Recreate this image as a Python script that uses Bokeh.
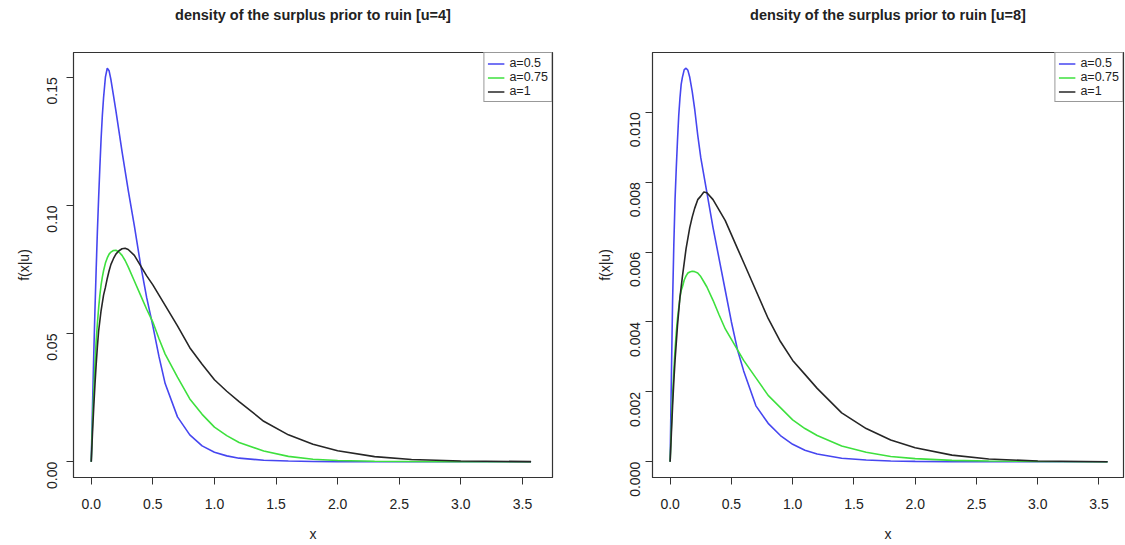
import math
from bokeh.plotting import figure
from bokeh.layouts import row
from bokeh.models import (Legend, LegendItem, FixedTicker, NumeralTickFormatter, Range1d,
                          LinearAxis)
from bokeh.embed import file_html
from bokeh.resources import INLINE

# ---- data ----
x_vals = [0, 0.01, 0.02, 0.03, 0.04, 0.05, 0.06, 0.07, 0.08, 0.09, 0.1, 0.115, 0.13, 0.145, 0.16,
          0.18, 0.2, 0.225, 0.25, 0.275, 0.3, 0.35, 0.4, 0.45, 0.5, 0.55, 0.6, 0.7, 0.8, 0.9,
          1.0, 1.1, 1.2, 1.4, 1.6, 1.8, 2.0, 2.3, 2.6, 3.0, 3.57]

u4_a05 = [0, 0.021, 0.041, 0.059, 0.075, 0.090, 0.103, 0.115, 0.126, 0.135, 0.142, 0.150, 0.1535,
          0.1525, 0.149, 0.143, 0.137, 0.129, 0.121, 0.1135, 0.106, 0.092, 0.077, 0.064, 0.053,
          0.041, 0.0305, 0.0175, 0.0105, 0.0062, 0.0037, 0.0023, 0.0014, 0.0006, 0.0003, 0.0001,
          0.00005, 0.00002, 0.0, 0.0, 0.0]
u4_a075 = [0, 0.015, 0.027, 0.038, 0.047, 0.054, 0.060, 0.065, 0.069, 0.072, 0.0745, 0.0775, 0.0795,
           0.081, 0.0818, 0.0824, 0.0825, 0.0818, 0.0805, 0.0785, 0.076, 0.0705, 0.065, 0.0595,
           0.0545, 0.048, 0.042, 0.033, 0.0245, 0.0185, 0.0135, 0.0102, 0.0075, 0.0042, 0.0021,
           0.001, 0.0005, 0.0002, 0.0001, 0.00003, 0.0]
u4_a1 = [0, 0.011, 0.021, 0.030, 0.038, 0.045, 0.051, 0.055, 0.059, 0.062, 0.065, 0.068, 0.0715,
         0.0745, 0.077, 0.0792, 0.081, 0.0823, 0.0831, 0.0833, 0.0828, 0.0805, 0.0765, 0.0725,
         0.069, 0.065, 0.061, 0.053, 0.0445, 0.038, 0.032, 0.0275, 0.0235, 0.0158, 0.0105,
         0.0068, 0.0043, 0.002, 0.0009, 0.0003, 0.00005]

u8_a05 = [0, 0.0024, 0.0046, 0.0062, 0.0075, 0.0084, 0.0092, 0.0099, 0.0104, 0.0108, 0.0110,
          0.01122, 0.01126, 0.0112, 0.0110, 0.0106, 0.0101, 0.00935, 0.0087, 0.0082, 0.0077,
          0.0067, 0.0058, 0.0049, 0.0040, 0.0032, 0.0026, 0.0016, 0.0011, 0.00075, 0.0005,
          0.00033, 0.00022, 0.0001, 0.00005, 0.00002, 0.00001, 0.0, 0.0, 0.0, 0.0]
u8_a075 = [0, 0.0010, 0.0019, 0.0026, 0.0032, 0.0037, 0.0041, 0.0044, 0.0047, 0.0049, 0.0050,
           0.0052, 0.00532, 0.0054, 0.00543, 0.00545, 0.00544, 0.0054, 0.0053, 0.00515, 0.0050,
           0.00462, 0.0042, 0.0038, 0.0035, 0.0032, 0.0029, 0.0024, 0.0019, 0.00155, 0.0012,
           0.00095, 0.00075, 0.00045, 0.00027, 0.00015, 0.00009, 0.00004, 0.00002, 0.00001, 0.0]
u8_a1 = [0, 0.0008, 0.0016, 0.0023, 0.0029, 0.0034, 0.0039, 0.0043, 0.0047, 0.0050, 0.0053,
         0.0057, 0.0061, 0.0064, 0.0067, 0.0070, 0.00725, 0.0075, 0.0076, 0.00772, 0.0077,
         0.0075, 0.0072, 0.0069, 0.0065, 0.0061, 0.0057, 0.0049, 0.0041, 0.00344, 0.0029,
         0.0025, 0.0021, 0.0014, 0.00095, 0.00062, 0.0004, 0.00019, 0.00008, 0.00002, 0.0]

series_labels = ["a=0.5", "a=0.75", "a=1"]
series_colors = ["#4646f0", "#3ee03e", "#262626"]
x_ticks = [0, 0.5, 1.0, 1.5, 2.0, 2.5, 3.0, 3.5]
y_ticks_u4 = [0.0, 0.05, 0.10, 0.15]
y_ticks_u8 = [0.0, 0.002, 0.004, 0.006, 0.008, 0.010]
titles = ["density of the surplus prior to ruin [u=4]",
          "density of the surplus prior to ruin [u=8]"]

FONT = "Liberation Sans"
TXT = "#222222"
FRAME_TOP = 52
FRAME_H = 425


def make_panel(title, ys, yticks, yfmt, ymax, width, bl, br, xmax, ylab_sd, yax_sd):
    xmin = -0.144
    y0, y1 = -0.04 * ymax, 1.04 * ymax
    p = figure(width=width, height=545, output_backend="svg", toolbar_location=None,
               x_range=Range1d(xmin, xmax), y_range=Range1d(y0, y1),
               min_border_left=bl, min_border_right=br, min_border_top=FRAME_TOP,
               min_border_bottom=545 - FRAME_TOP - FRAME_H)
    p.grid.visible = False
    p.outline_line_color = "#333333"
    p.outline_line_width = 1.2
    p.background_fill_color = "white"
    p.border_fill_color = "white"

    items = []
    for y, lab, col in zip(ys, series_labels, series_colors):
        r = p.line(x_vals, y, line_color=col, line_width=1.6)
        items.append(LegendItem(label=lab, renderers=[r]))

    leg = Legend(items=items, location="top_right", margin=0, padding=3, spacing=0,
                 label_height=11, glyph_height=11, glyph_width=17, label_standoff=5,
                 label_text_font=FONT, label_text_font_size="12.5px", label_text_color=TXT,
                 border_line_color="#333333", border_line_width=1, background_fill_alpha=1.0)
    p.add_layout(leg)

    # title: an empty axis above the frame whose label carries the title text
    top_axis = LinearAxis(ticker=FixedTicker(ticks=[]), axis_label=title,
                          axis_line_color=None, major_tick_line_color=None,
                          minor_tick_line_color=None, major_tick_out=0, major_label_standoff=0,
                          axis_label_standoff=30, axis_label_text_font=FONT,
                          axis_label_text_font_size="14.5px", axis_label_text_font_style="bold",
                          axis_label_text_color=TXT)
    p.add_layout(top_axis, "above")

    xa = p.xaxis[0] if p.below else None
    xa = p.below[0]
    xa.ticker = FixedTicker(ticks=x_ticks)
    xa.formatter = NumeralTickFormatter(format="0.0")
    xa.axis_label = "x"
    ya = p.left[0]
    ya.ticker = FixedTicker(ticks=yticks)
    ya.formatter = NumeralTickFormatter(format=yfmt)
    ya.axis_label = "f(x|u)"
    ya.major_label_orientation = math.pi / 2
    for ax in (xa, ya):
        ax.axis_line_color = "#333333"
        ax.major_tick_line_color = "#333333"
        ax.minor_tick_line_color = None
        ax.major_tick_out = 7
        ax.major_tick_in = 0
        ax.major_label_text_font = FONT
        ax.major_label_text_font_size = "14px"
        ax.major_label_text_color = TXT
        ax.axis_label_text_font = FONT
        ax.axis_label_text_font_size = "14px"
        ax.axis_label_text_font_style = "normal"
        ax.axis_label_text_color = TXT
    xa.major_label_standoff = 14
    xa.axis_label_standoff = 14
    ya.major_label_standoff = ylab_sd
    ya.axis_label_standoff = yax_sd
    return p


p1 = make_panel(titles[0], [u4_a05, u4_a075, u4_a1], y_ticks_u4, "0.00", 0.1535,
                562, 73, 10, 3.744, 14, 8)
p2 = make_panel(titles[1], [u8_a05, u8_a075, u8_a1], y_ticks_u8, "0.000", 0.01126,
                563, 90, 2, 3.70, 10, 10)

layout = row(p1, p2, spacing=0)
open("out.html", "w").write(file_html(layout, INLINE))
